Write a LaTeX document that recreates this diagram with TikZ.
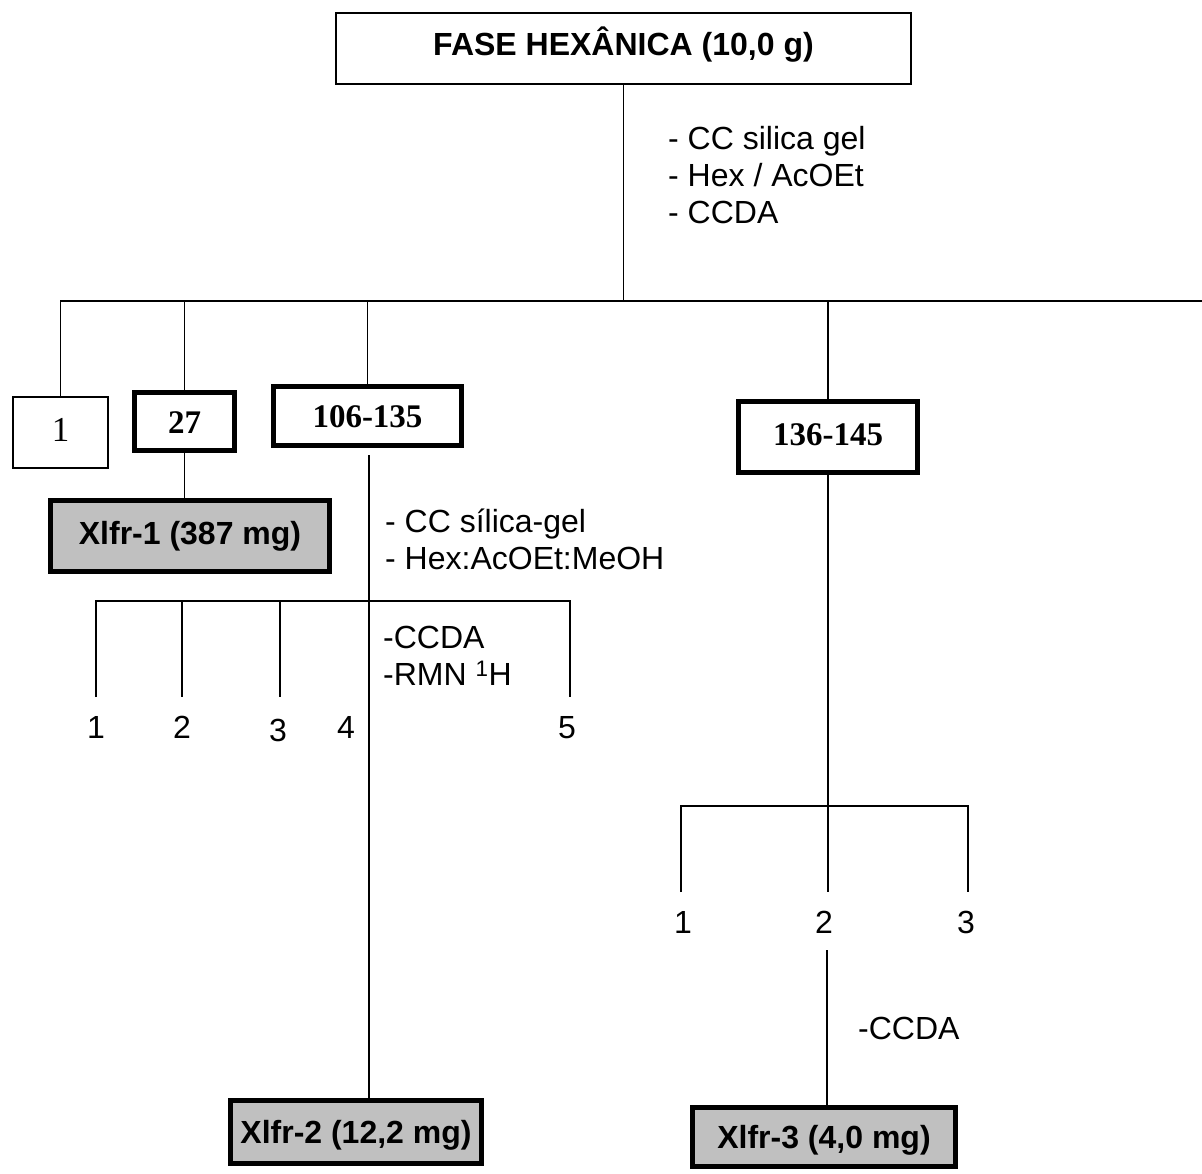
\documentclass[tikz,border=0pt]{standalone}
\usepackage{fontspec}
\setmainfont{Liberation Sans}
\newfontfamily\tnr{Liberation Serif}
\newcommand\fsz{\fontsize{32}{37}\selectfont}
\newcommand\fszs{\fontsize{33}{37}\selectfont}
\definecolor{boxgray}{RGB}{192,192,192}
\begin{document}
\begin{tikzpicture}[x=1pt,y=-1pt,
  conn/.style={line width=1.5pt},
  plainbox/.style={draw, line width=2pt, inner sep=0pt, text height=23pt, text depth=0pt},
  heavybox/.style={draw, line width=5pt, inner sep=0pt, text height=23pt, text depth=0pt},
  resbox/.style={heavybox, fill=boxgray, font=\fsz\bfseries},
  numbox/.style={heavybox, font=\fszs\tnr\bfseries},
  lbl/.style={inner sep=0pt, font=\fsz, text height=23pt, text depth=0pt},
  note/.style={inner sep=0pt, font=\fsz, align=left}]
\useasboundingbox[fill=white] (0,0) rectangle (1202,1173);

% boxes
\node[plainbox, minimum width=575pt, minimum height=71pt, text depth=10pt, font=\fsz\bfseries] (top) at (623.5,48.5) {FASE HEXÂNICA (10,0 g)};
\node[plainbox, minimum width=95pt, minimum height=71pt, text depth=5pt, font=\fontsize{35}{37}\selectfont\tnr] (b1) at (60.5,432.5) {1};
\node[numbox, minimum width=100pt, minimum height=58pt] (b27) at (184.5,421.5) {27};
\node[numbox, minimum width=188pt, minimum height=59pt] (b106) at (367.5,416) {106-135};
\node[numbox, minimum width=179pt, minimum height=71pt, text depth=7pt] (b136) at (828,437) {136-145};
\node[resbox, minimum width=279pt, minimum height=71pt, text depth=6pt] (x1) at (190,536) {Xlfr-1 (387 mg)};
\node[resbox, minimum width=251pt, minimum height=63pt] (x2) at (356,1132) {Xlfr-2 (12,2 mg)};
\node[resbox, minimum width=263pt, minimum height=59pt] (x3) at (824,1137) {Xlfr-3 (4,0 mg)};

% notes
\node[note, anchor=north west] (n1) at (668,126) {- CC silica gel\\- Hex / AcOEt\\- CCDA};
\node[note, anchor=north west] (n2) at (385,509) {- CC sílica-gel\\- Hex:AcOEt:MeOH};
\node[note, anchor=north west] (n3) at (383,626) {-CCDA\\-RMN \textsuperscript{1}H};
\node[lbl, anchor=west] (n4) at (858,1028) {-CCDA};

% fraction labels
\node[lbl] (g1) at (96,727) {1};
\node[lbl] (g2) at (182,727) {2};
\node[lbl] (g3) at (278,730) {3};
\node[lbl] (g4) at (346,727) {4};
\node[lbl] (g5) at (567,727) {5};
\node[lbl] (h1) at (683,922) {1};
\node[lbl] (h2) at (824,922) {2};
\node[lbl] (h3) at (966,922) {3};

% coordinates
\coordinate (busA) at (60.5,301);
\coordinate (busAend) at (1202,301);
\coordinate (busB) at (96,601);
\coordinate (e1) at (96,697);
\coordinate (e2) at (182,697);
\coordinate (e3) at (280,697);
\coordinate (e5) at (570,697);
\coordinate (busC) at (681,806);
\coordinate (k1) at (681,892);
\coordinate (k2) at (827,892);
\coordinate (k3) at (968,892);
\coordinate (c2top) at (827,950);
\coordinate (s106) at (369,455);

% connectors
\draw[conn] (top.south) -- (top.south |- busA);
\draw[conn] (b1.north) -- (busA) -- (busAend);
\draw[conn] (b27.north |- busA) -- (b27.north);
\draw[conn] (b106.north |- busA) -- (b106.north);
\draw[conn] (b136.north |- busA) -- (b136.north);
\draw[conn] (b27.south) -- (b27.south |- x1.north);
\draw[conn] (s106) -- (s106 |- x2.north);
\draw[conn] (e1) -- (e1 |- busB) -- (e5 |- busB) -- (e5);
\draw[conn] (e2 |- busB) -- (e2);
\draw[conn] (e3 |- busB) -- (e3);
\draw[conn] (b136.south) -- (b136.south |- k2);
\draw[conn] (k1) -- (k1 |- busC) -- (k3 |- busC) -- (k3);
\draw[conn] (c2top) -- (c2top |- x3.north);
\end{tikzpicture}
\end{document}
